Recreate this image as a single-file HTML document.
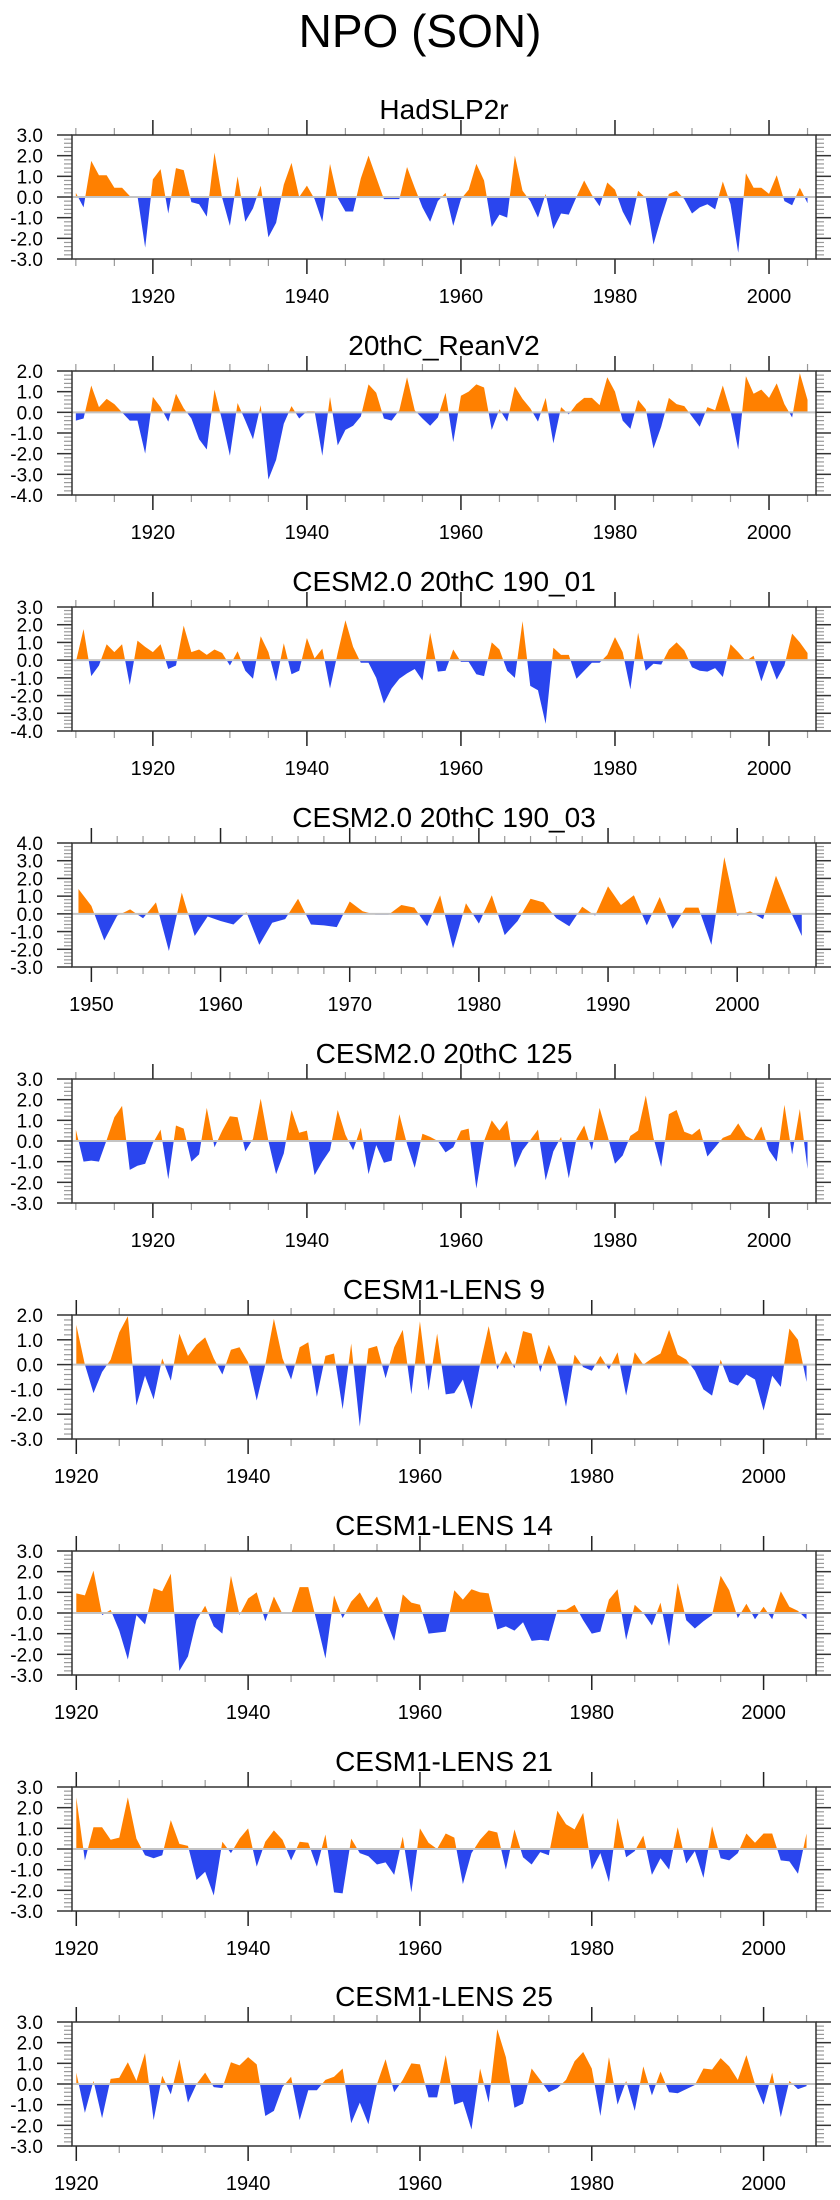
<!DOCTYPE html>
<html><head><meta charset="utf-8">
<style>
html,body{margin:0;padding:0;background:#fff;}
svg{display:block;font-family:"Liberation Sans",Arial,sans-serif;}
</style></head>
<body>
<svg id="chart" width="840" height="2200" viewBox="0 0 840 2200" xmlns="http://www.w3.org/2000/svg">
<text x="420" y="47" font-size="46" text-anchor="middle" fill="#000">NPO (SON)</text>
</svg>
<script>
// ---- data ----
const titles = ["HadSLP2r","20thC_ReanV2","CESM2.0 20thC 190_01","CESM2.0 20thC 190_03","CESM2.0 20thC 125","CESM1-LENS 9","CESM1-LENS 14","CESM1-LENS 21","CESM1-LENS 25"];
const startYears = [1910,1910,1910,1949,1910,1920,1920,1920,1920];
const yMins = [-3,-4,-4,-3,-3,-3,-3,-3,-3];
const yMaxs = [3,2,3,4,3,2,3,3,3];
const xTickLabelsA = [1920,1940,1960,1980,2000];
const xTickLabelsB = [1950,1960,1970,1980,1990,2000];

const vals1 = [0.2,-0.5,1.75,1.05,1.05,0.45,0.45,0.05,0.05,-2.45,0.85,1.35,-0.8,1.4,1.3,-0.25,-0.35,-0.95,2.15,-0.05,-1.4,1.0,-1.2,-0.55,0.55,-1.95,-1.25,0.6,1.65,0,0.55,-0.1,-1.2,1.6,-0.05,-0.7,-0.7,0.9,2.0,0.95,-0.1,-0.1,-0.1,1.45,0.45,-0.5,-1.2,-0.2,0.2,-1.4,-0.1,0.35,1.6,0.8,-1.45,-0.85,-1.0,2.0,0.3,-0.2,-1.0,0.15,-1.55,-0.8,-0.85,0,0.8,0.1,-0.45,0.7,0.35,-0.7,-1.4,0.3,-0.05,-2.3,-1.0,0.15,0.3,-0.1,-0.8,-0.5,-0.35,-0.6,0.75,-0.35,-2.7,1.15,0.45,0.45,0.15,1.05,-0.2,-0.4,0.45,-0.3];
const vals2 = [-0.4,-0.3,1.3,0.25,0.65,0.4,0,-0.4,-0.4,-2.0,0.75,0.25,-0.45,0.9,0.2,-0.3,-1.3,-1.8,1.1,-0.4,-2.1,0.45,-0.4,-1.3,0.35,-3.25,-2.3,-0.55,0.3,-0.3,0.05,0.05,-2.1,0.75,-1.6,-0.85,-0.65,-0.2,1.35,0.95,-0.3,-0.4,0.1,1.7,0.1,-0.3,-0.65,-0.25,0.95,-1.45,0.8,1.0,1.35,1.2,-0.85,0.15,-0.45,1.25,0.65,0.2,-0.45,0.7,-1.5,0.25,-0.1,0.4,0.7,0.7,0.35,1.7,1.0,-0.4,-0.8,0.6,0.15,-1.75,-0.7,0.7,0.4,0.3,-0.2,-0.7,0.25,0.1,1.3,0.05,-1.8,1.75,0.9,1.1,0.7,1.4,0.4,-0.25,1.9,0.6];
const vals3 = [-0.1,1.75,-0.9,-0.3,0.9,0.45,0.9,-1.4,1.1,0.75,0.45,0.9,-0.5,-0.3,1.95,0.45,0.6,0.3,0.6,0.4,-0.3,0.5,-0.6,-1.05,1.35,0.45,-1.2,0.95,-0.8,-0.6,1.25,0.1,0.65,-1.6,0.4,2.25,0.75,-0.15,-0.15,-1.0,-2.45,-1.6,-1.05,-0.75,-0.5,-1.15,1.55,-0.65,-0.6,0.6,-0.1,-0.1,-0.8,-0.9,1.0,0.6,-0.6,-1.0,2.2,-1.45,-1.7,-3.6,0.7,0.3,0.3,-1.05,-0.6,-0.15,-0.15,0.3,1.3,0.45,-1.65,1.55,-0.6,-0.2,-0.25,0.6,1.0,0.55,-0.4,-0.6,-0.65,-0.45,-0.95,0.9,0.45,-0.05,0.25,-1.2,0.05,-1.1,-0.3,1.5,1.0,0.4];
const vals4 = [1.4,0.45,-1.5,-0.1,0.25,-0.25,0.65,-2.1,1.2,-1.25,-0.15,-0.4,-0.6,0.1,-1.75,-0.5,-0.3,0.85,-0.6,-0.65,-0.75,0.7,0.15,-0.05,-0.05,0.5,0.35,-0.7,1.05,-1.95,0.6,-0.55,1.05,-1.2,-0.4,0.85,0.65,-0.25,-0.7,0.4,-0.1,1.55,0.5,1.05,-0.65,0.95,-0.85,0.35,0.35,-1.75,3.2,-0.1,0.15,-0.3,2.15,0.35,-1.25];
const vals5 = [0.55,-1.0,-0.95,-1.0,0.05,1.15,1.7,-1.4,-1.2,-1.1,-0.1,0.55,-1.85,0.75,0.6,-1.0,-0.65,1.6,-0.3,0.5,1.2,1.15,-0.5,0.1,2.05,0,-1.6,-0.6,1.5,0.4,0.5,-1.65,-1.0,-0.45,1.5,0.3,-0.45,0.65,-1.6,-0.2,-1.05,-0.95,1.3,-0.15,-1.3,0.35,0.2,0,-0.55,-0.3,0.5,0.6,-2.3,0,1.0,0.5,1.0,-1.3,-0.45,0.05,0.55,-1.9,-0.5,0.2,-1.8,0.1,0.75,-0.45,1.6,0.3,-1.1,-0.7,0.25,0.5,2.2,0.15,-1.25,1.3,1.5,0.45,0.3,0.6,-0.75,-0.3,0.15,0.3,0.85,0.25,0.05,0.7,-0.45,-1.0,1.75,-0.65,1.55,-1.35];
const vals6 = [1.6,0,-1.15,-0.3,0.2,1.3,1.95,-1.65,-0.45,-1.4,0.25,-0.65,1.25,0.35,0.8,1.1,0.25,-0.4,0.6,0.7,0.1,-1.45,0,1.85,0.25,-0.6,0.7,0.9,-1.3,0.35,0.45,-1.8,0.85,-2.5,0.65,0.75,-0.55,0.7,1.4,-1.2,1.75,-1.05,1.25,-1.2,-1.15,-0.6,-1.8,0,1.55,-0.2,0.55,-0.15,1.35,1.25,-0.3,0.8,-0.05,-1.7,0.4,-0.1,-0.25,0.35,-0.2,0.5,-1.25,0.5,0,0.25,0.45,1.4,0.4,0.2,-0.25,-1.0,-1.25,0.2,-0.7,-0.85,-0.4,-0.6,-1.85,-0.45,-0.9,1.45,1.0,-0.7];
const vals7 = [0.95,0.85,2.05,-0.1,0.15,-0.85,-2.25,-0.1,-0.55,1.2,1.05,1.9,-2.8,-2.1,-0.35,0.35,-0.65,-1.0,1.8,-0.1,0.7,1.0,-0.4,0.8,-0.05,-0.05,1.25,1.25,-0.45,-2.2,0.85,-0.25,0.55,1.0,0.25,0.8,-0.3,-1.35,0.9,0.5,0.4,-1.0,-0.95,-0.9,1.1,0.65,1.15,1.0,0.95,-0.8,-0.65,-0.85,-0.45,-1.35,-1.3,-1.35,0.15,0.15,0.4,-0.35,-1.0,-0.9,0.65,1.15,-1.3,0.4,0,-0.6,0.5,-1.6,1.45,-0.35,-0.75,-0.4,-0.1,1.8,1.1,-0.25,0.45,-0.3,0.3,-0.3,1.05,0.3,0.1,-0.3];
const vals8 = [2.5,-0.55,1.05,1.05,0.45,0.55,2.5,0.5,-0.3,-0.45,-0.3,1.4,0.25,0.15,-1.5,-1.1,-2.25,0.35,-0.2,0.5,1.0,-0.85,0.35,0.9,0.45,-0.55,0.35,0.3,-0.85,0.7,-2.1,-2.15,0.5,-0.2,-0.35,-0.75,-0.65,-1.25,0.6,-2.1,1.0,0.3,0,0.75,0.55,-1.7,-0.2,0.45,0.9,0.8,-1.0,0.95,-0.4,-0.75,-0.15,-0.3,1.85,1.2,0.95,1.75,-1.0,-0.2,-1.6,1.5,-0.4,-0.1,0.65,-1.25,-0.45,-1.0,1.05,-0.7,-0.1,-1.4,1.1,-0.45,-0.55,-0.2,0.75,0.3,0.75,0.75,-0.55,-0.6,-1.2,0.75];
const vals9 = [0.55,-1.4,0.15,-1.65,0.25,0.3,1.05,0.15,1.5,-1.75,0.4,-0.5,1.2,-0.9,0,0.55,-0.15,-0.2,1.05,0.9,1.3,0.95,-1.55,-1.3,-0.15,0.35,-1.75,-0.3,-0.3,0.2,0.35,0.75,-1.9,-0.9,-1.95,0,1.2,-0.4,0.2,1.0,0.95,-0.65,-0.65,1.4,-1.0,-0.85,-2.2,0.75,-0.9,2.65,1.3,-1.15,-0.95,0.75,0.2,-0.4,-0.2,0.2,1.1,1.55,0.75,-1.55,1.3,-1.0,0.15,-1.3,0.85,-0.55,0.6,-0.4,-0.45,-0.25,-0.05,0.75,0.7,1.25,0.85,0.2,1.4,0,-1.0,0.55,-1.6,0.15,-0.25,-0.1];
const allVals = [vals1,vals2,vals3,vals4,vals5,vals6,vals7,vals8,vals9];

// ---- layout ----
const svg = document.getElementById('chart');
const NS = 'http://www.w3.org/2000/svg';
const panelTops = [135,371,607,843,1079,1315,1551,1787,2022];
const BOX_L = 72, BOX_R = 816, BOX_H = 124, X_END = 2006.1;

function mk(tag, attrs, parent){
  const e = document.createElementNS(NS, tag);
  for (const k in attrs) e.setAttribute(k, attrs[k]);
  (parent||svg).appendChild(e);
  return e;
}

for (let p = 0; p < 9; p++) {
  const top = panelTops[p], bot = top + BOX_H;
  const vals = allVals[p], y0 = startYears[p];
  const yMin = yMins[p], yMax = yMaxs[p];
  const xMin = y0 - 0.5;
  const xs = yr => BOX_L + (yr - xMin) / (X_END - xMin) * (BOX_R - BOX_L);
  const ys = v => bot - (v - yMin) / (yMax - yMin) * BOX_H;

  const g = mk('g', {});
  
  

  const t = mk('text', {x:(BOX_L+BOX_R)/2, y: top-16, 'font-size':28, 'text-anchor':'middle', fill:'#000'}, g);
  
  
  t.textContent = titles[p];

  const zy = ys(0);
  const defs = mk('defs', {}, g);
  const cu = mk('clipPath', {id:'cu'+p}, defs);
  mk('rect', {x:BOX_L, y:top, width:BOX_R-BOX_L, height:zy-top}, cu);
  const cd = mk('clipPath', {id:'cd'+p}, defs);
  mk('rect', {x:BOX_L, y:zy, width:BOX_R-BOX_L, height:bot-zy}, cd);

  let d = 'M' + xs(y0).toFixed(2) + ',' + zy.toFixed(2);
  vals.forEach((v,i) => { d += ' L' + xs(y0+i).toFixed(2) + ',' + ys(v).toFixed(2); });
  d += ' L' + xs(y0+vals.length-1).toFixed(2) + ',' + zy.toFixed(2) + ' Z';
  const pos = mk('path', {d:d, fill:'#ff8000', 'clip-path':'url(#cu'+p+')'}, g);
  
  
  const neg = mk('path', {d:d, fill:'#2a45ee', 'clip-path':'url(#cd'+p+')'}, g);
  
  

  const zl = mk('line', {x1:BOX_L, x2:BOX_R, y1:zy, y2:zy, stroke:'#c4c4c4', 'stroke-width':2}, g);
  
  

  for (let k = Math.round(yMin*5); k <= Math.round(yMax*5); k++) {
    const v = k/5, yy = ys(v), major = (k % 5 === 0);
    const len = major ? 15 : 8, col = major ? '#333' : '#999';
    mk('line', {x1:BOX_L-len, x2:BOX_L, y1:yy, y2:yy, stroke:col, 'stroke-width':major?1.5:1.2}, g);
    mk('line', {x1:BOX_R, x2:BOX_R+len, y1:yy, y2:yy, stroke:col, 'stroke-width':major?1.5:1.2}, g);
    if (major) {
      const lb = mk('text', {x:43, y:yy+7, 'font-size':19, 'text-anchor':'end', fill:'#000'}, g);
      
      
      lb.textContent = v.toFixed(1);
    }
  }
  const isB = (p === 3);
  const majStep = isB ? 10 : 20, minStep = isB ? 2 : 5;
  const labels = isB ? xTickLabelsB : xTickLabelsA;
  for (let yr = Math.ceil(xMin); yr <= X_END; yr++) {
    if (yr % minStep !== 0) continue;
    const xx = xs(yr), major = (yr % majStep === 0);
    const len = major ? 15 : 7, col = major ? '#222' : '#999';
    mk('line', {x1:xx, x2:xx, y1:top-len, y2:top, stroke:col, 'stroke-width':major?1.5:1.2}, g);
    mk('line', {x1:xx, x2:xx, y1:bot, y2:bot+len, stroke:col, 'stroke-width':major?1.5:1.2}, g);
  }
  labels.forEach(yr => {
    const lb = mk('text', {x:xs(yr), y:bot+44, 'font-size':20, 'text-anchor':'middle', fill:'#000'}, g);
    
    
    lb.textContent = yr;
  });
  const fr = mk('rect', {x:BOX_L, y:top, width:BOX_R-BOX_L, height:BOX_H, fill:'none', stroke:'#333', 'stroke-width':1.5}, g);
  
  
}
</script>
</body></html>
